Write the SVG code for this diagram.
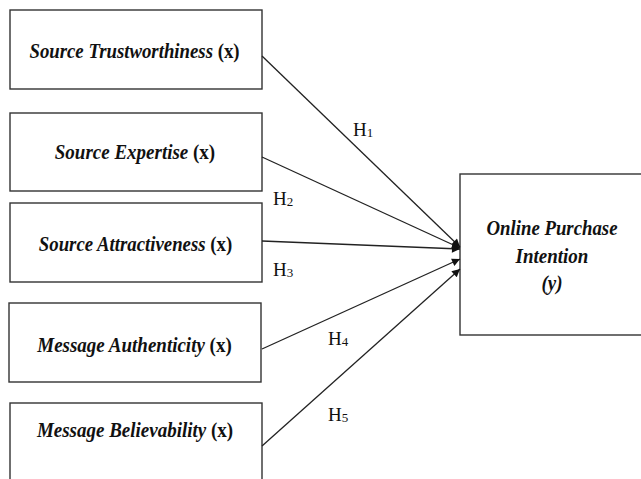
<svg xmlns="http://www.w3.org/2000/svg" width="641" height="479" viewBox="0 0 641 479">
<defs>
<style>
.box{fill:#fff;stroke:#333;stroke-width:1.4}
.lbl{font-family:"Liberation Serif","Times New Roman",serif;font-size:20px;font-weight:bold;fill:#111;text-anchor:middle}
.it{font-style:italic}
.h{font-family:"Liberation Serif","Times New Roman",serif;font-size:19px;fill:#111}
.sub{font-size:13px}
.con{stroke:#222;stroke-width:1.3;fill:none}
</style>
<marker id="arr" viewBox="0 0 10 10" refX="10" refY="5" markerWidth="10" markerHeight="8" markerUnits="userSpaceOnUse" orient="auto">
<path d="M0,0 L10,5 L0,10 z" fill="#111"/>
</marker>
</defs>
<rect width="641" height="479" fill="#fff"/>
<g id="n1">
<rect class="box" x="10" y="10" width="252" height="79"/>
<text class="lbl" transform="translate(134.5,58) scale(0.94,1)"><tspan class="it">Source Trustworthiness</tspan> (x)</text>
</g>
<g id="n2">
<rect class="box" x="10" y="113" width="252" height="78"/>
<text class="lbl" transform="translate(135,159) scale(0.95,1)"><tspan class="it">Source Expertise</tspan> (x)</text>
</g>
<g id="n3">
<rect class="box" x="10" y="203" width="252" height="79"/>
<text class="lbl" transform="translate(135.5,251) scale(0.94,1)"><tspan class="it">Source Attractiveness</tspan> (x)</text>
</g>
<g id="n4">
<rect class="box" x="9" y="303" width="252" height="79"/>
<text class="lbl" transform="translate(134.5,352) scale(0.95,1)"><tspan class="it">Message Authenticity</tspan> (x)</text>
</g>
<g id="n5">
<rect class="box" x="10" y="403" width="252" height="82"/>
<text class="lbl" transform="translate(135,437) scale(0.95,1)"><tspan class="it">Message Believability</tspan> (x)</text>
</g>
<g id="y">
<rect class="box" x="460" y="174" width="186" height="161"/>
<text class="lbl it" transform="translate(552,235) scale(0.94,1)">Online Purchase</text>
<text class="lbl it" transform="translate(552,263) scale(0.95,1)">Intention</text>
<text class="lbl it" transform="translate(552,290) scale(0.95,1)">(y)</text>
</g>
<g id="connectors">
<line class="con" x1="262" y1="56" x2="460" y2="247" marker-end="url(#arr)"/>
<line class="con" x1="262" y1="157" x2="460" y2="248" marker-end="url(#arr)"/>
<line class="con" x1="262" y1="241" x2="460" y2="249" marker-end="url(#arr)"/>
<line class="con" x1="262" y1="349" x2="460" y2="259" marker-end="url(#arr)"/>
<line class="con" x1="262" y1="446" x2="460" y2="269" marker-end="url(#arr)"/>
</g>
<g id="labels">
<text class="h" x="353" y="136">H<tspan class="sub" dy="1">1</tspan></text>
<text class="h" x="273" y="205">H<tspan class="sub" dy="1">2</tspan></text>
<text class="h" x="273" y="276">H<tspan class="sub" dy="1">3</tspan></text>
<text class="h" x="328" y="345">H<tspan class="sub" dy="1">4</tspan></text>
<text class="h" x="328" y="421">H<tspan class="sub" dy="1">5</tspan></text>
</g>
</svg>
